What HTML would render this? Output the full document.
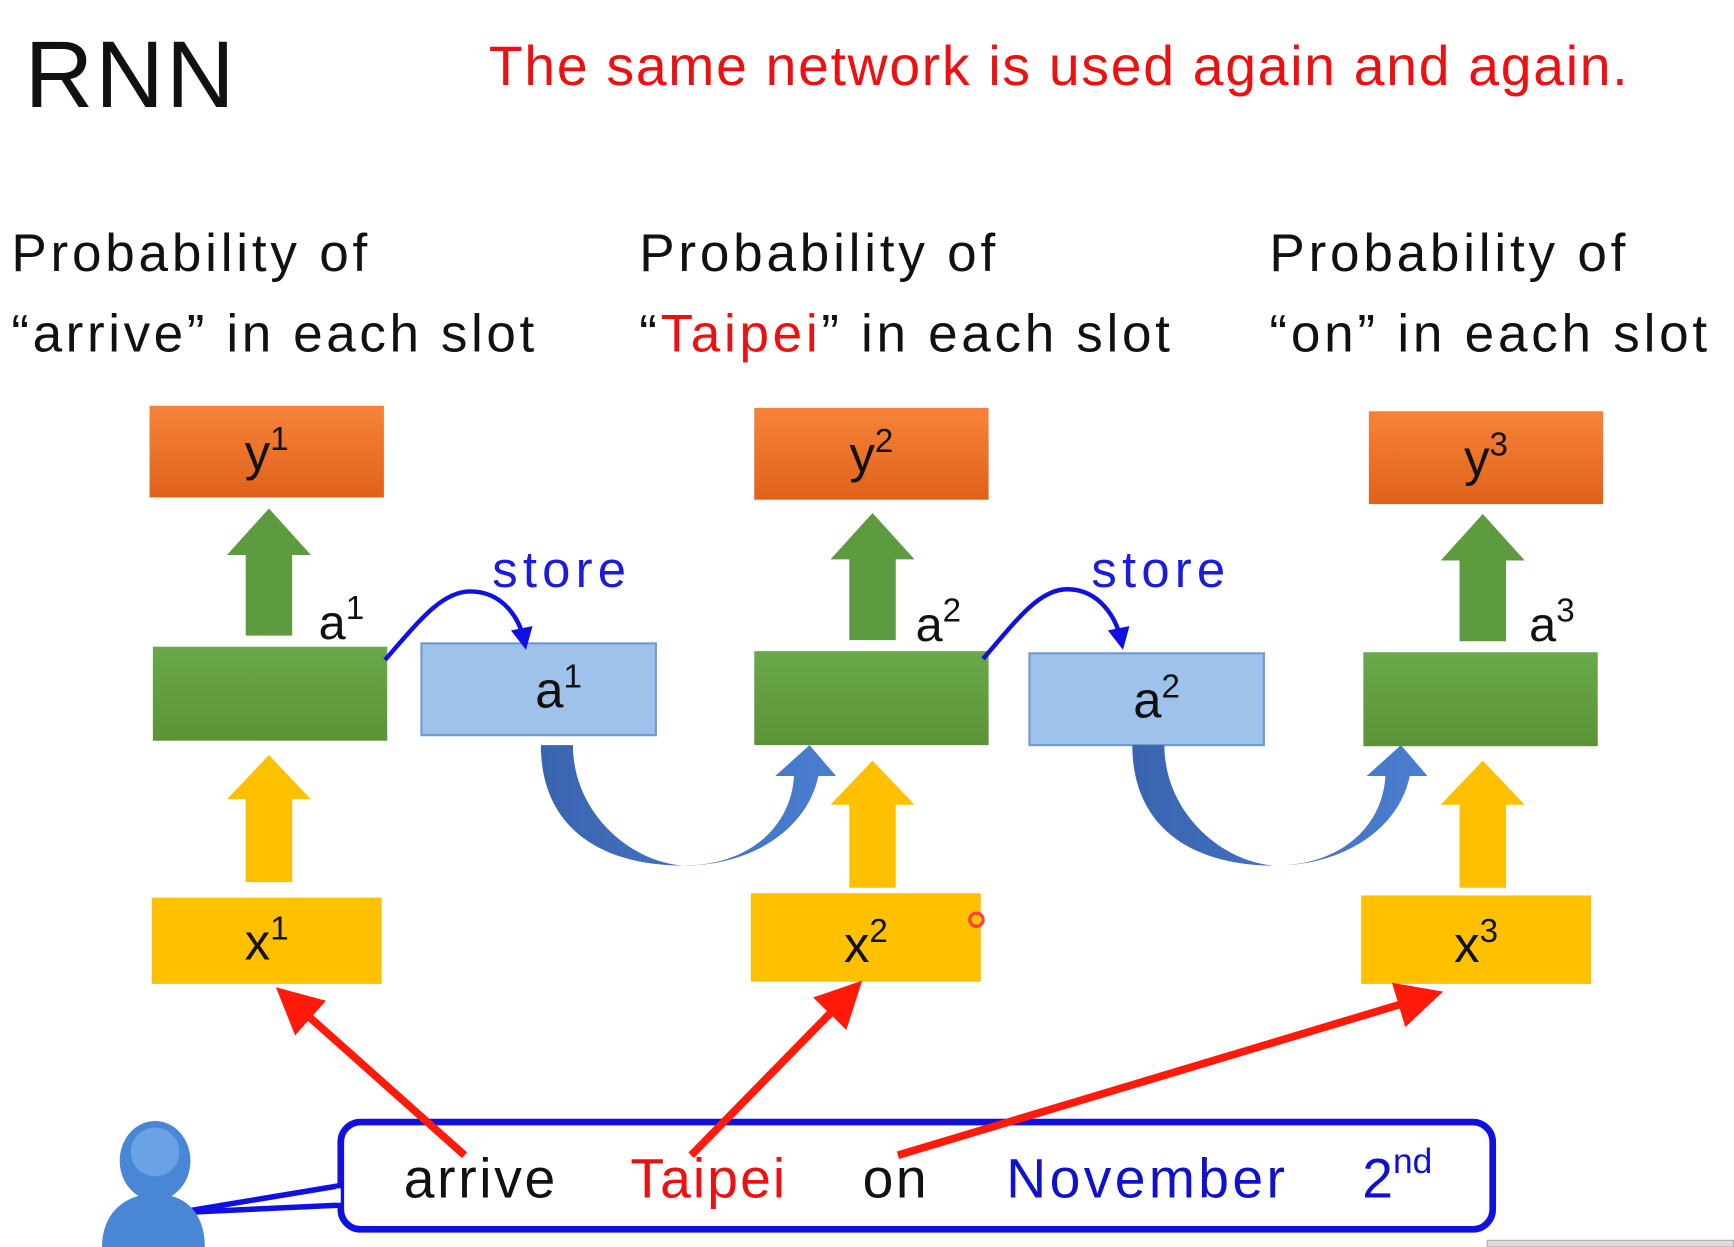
<!DOCTYPE html>
<html><head><meta charset="utf-8"><style>html,body{margin:0;padding:0;background:#fff}svg{display:block}</style></head>
<body>
<svg width="1734" height="1247" viewBox="0 0 1568 1128" xmlns="http://www.w3.org/2000/svg" font-family="'Liberation Sans', 'DejaVu Sans', sans-serif">
<defs>
<linearGradient id="og" x1="0" y1="0" x2="0" y2="1"><stop offset="0" stop-color="#f7833a"/><stop offset="1" stop-color="#e0621a"/></linearGradient>
<linearGradient id="gg" x1="0" y1="0" x2="0" y2="1"><stop offset="0" stop-color="#6aa84a"/><stop offset="1" stop-color="#5a9436"/></linearGradient>
<linearGradient id="bg" x1="0" y1="0" x2="1" y2="0"><stop offset="0" stop-color="#3a64b0"/><stop offset="1" stop-color="#4a7ed0"/></linearGradient>
<marker id="ra" markerWidth="6" markerHeight="6" refX="3" refY="3" orient="auto" markerUnits="strokeWidth"><path d="M0,0 L6,3 L0,6 z" fill="#ff1a0a"/></marker>
<marker id="ba" markerWidth="5" markerHeight="5" refX="3" refY="2.5" orient="auto" markerUnits="strokeWidth"><path d="M0,0 L5,2.5 L0,5 z" fill="#1010e0"/></marker>
<g id="gar"><path d="M-21,115 L-21,42 L-38,42 L0,0 L38,42 L21,42 L21,115 Z" fill="#5e9a40"/></g>
<g id="yar"><path d="M-21,115 L-21,40 L-38,40 L0,0 L38,40 L21,40 L21,115 Z" fill="#ffc000"/></g>
</defs>
<text x="22" y="97" font-size="86" fill="#111" textLength="190">RNN</text>
<text x="442" y="77" font-size="50" fill="#ee1010" textLength="1030">The same network is used again and again.</text>
<g font-size="48" fill="#111">
<text x="10" y="245" textLength="322">Probability of</text><text x="10" y="318" textLength="473">“arrive” in each slot</text>
<text x="578" y="245" textLength="322">Probability of</text><text x="578" y="318" textLength="480">“<tspan fill="#ee1010">Taipei</tspan>” in each slot</text>
<text x="1148" y="245" textLength="322">Probability of</text><text x="1148" y="318" textLength="396">“on” in each slot</text>
</g>
<rect x="135" y="367" width="212" height="83" fill="url(#og)"/>
<rect x="682" y="369" width="212" height="83" fill="url(#og)"/>
<rect x="1238" y="372" width="212" height="84" fill="url(#og)"/>
<g font-size="46" fill="#111" text-anchor="middle">
<text x="241" y="425">y<tspan font-size="30" dy="-18">1</tspan></text>
<text x="788" y="427">y<tspan font-size="30" dy="-18">2</tspan></text>
<text x="1344" y="430">y<tspan font-size="30" dy="-18">3</tspan></text>
</g>
<use href="#gar" x="243" y="460"/>
<use href="#gar" x="789" y="464"/>
<use href="#gar" x="1341" y="465"/>
<rect x="138" y="585" width="212" height="85" fill="url(#gg)"/>
<rect x="682" y="589" width="212" height="85" fill="url(#gg)"/>
<rect x="1233" y="590" width="212" height="85" fill="url(#gg)"/>
<g font-size="44" fill="#111">
<text x="288" y="578">a<tspan font-size="30" dy="-18">1</tspan></text>
<text x="828" y="580">a<tspan font-size="30" dy="-18">2</tspan></text>
<text x="1383" y="580">a<tspan font-size="30" dy="-18">3</tspan></text>
</g>
<rect x="381" y="582" width="212" height="83" fill="#9fc2eb" stroke="#6f9bd0" stroke-width="2"/>
<rect x="931" y="591" width="212" height="83" fill="#9fc2eb" stroke="#6f9bd0" stroke-width="2"/>
<g font-size="46" fill="#111" text-anchor="middle">
<text x="505" y="640">a<tspan font-size="30" dy="-18">1</tspan></text>
<text x="1046" y="649">a<tspan font-size="30" dy="-18">2</tspan></text>
</g>
<g font-size="46" fill="#1a1ae0">
<text x="445" y="531" textLength="121">store</text><text x="987" y="531" textLength="121">store</text>
</g>
<path d="M348,597 C380,560 400,535 425,535 C455,535 470,560 474,580" fill="none" stroke="#1010e0" stroke-width="4" marker-end="url(#ba)"/>
<path d="M889,596 C920,560 940,533 965,533 C995,533 1010,560 1014,580" fill="none" stroke="#1010e0" stroke-width="4" marker-end="url(#ba)"/>
<path d="M489,674 C489,750 545,783 618,783 C675,783 715,750 718,702 L701,702 L732,674 L756,702 L740,702 C730,750 680,783 618,783 C570,780 518,735 518,674 Z" fill="url(#bg)"/>
<path d="M1024,674 C1024,750 1080,783 1153,783 C1210,783 1250,750 1253,702 L1236,702 L1267,674 L1291,702 L1275,702 C1265,750 1215,783 1153,783 C1105,780 1053,735 1053,674 Z" fill="url(#bg)"/>
<use href="#yar" x="243" y="683"/>
<use href="#yar" x="789" y="688"/>
<use href="#yar" x="1341" y="688"/>
<rect x="137" y="812" width="208" height="78" fill="#ffc000"/>
<rect x="679" y="808" width="208" height="80" fill="#ffc000"/>
<rect x="1231" y="810" width="208" height="80" fill="#ffc000"/>
<g font-size="46" fill="#111" text-anchor="middle">
<text x="241" y="868">x<tspan font-size="30" dy="-18">1</tspan></text>
<text x="783" y="870">x<tspan font-size="30" dy="-18">2</tspan></text>
<text x="1335" y="870">x<tspan font-size="30" dy="-18">3</tspan></text>
</g>
<circle cx="883" cy="832" r="6" fill="none" stroke="#ff4040" stroke-width="3"/>
<path d="M160,1097 L310,1072 L310,1090 Z" fill="#fff" stroke="#1010e0" stroke-width="5"/>
<rect x="308" y="1015" width="1042" height="97" rx="18" fill="#fff" stroke="#1010e0" stroke-width="6"/>
<path d="M306,1075 L306,1088" stroke="#fff" stroke-width="4"/>
<ellipse cx="140" cy="1050" rx="32" ry="36" fill="#4a86d6"/>
<ellipse cx="140" cy="1042" rx="22" ry="22" fill="#6aa2e6"/>
<path d="M92,1128 C92,1100 110,1080 140,1080 C170,1080 185,1100 185,1128 Z" fill="#4a86d6"/>
<g stroke="#ff1a0a" stroke-width="7" marker-end="url(#ra)">
<line x1="420" y1="1045" x2="265" y2="907"/>
<line x1="625" y1="1045" x2="765" y2="902"/>
<line x1="812" y1="1045" x2="1285" y2="903"/>
</g>
<g font-size="50">
<text x="365" y="1083" fill="#111" textLength="137">arrive</text>
<text x="570" y="1083" fill="#ee1010" textLength="140">Taipei</text>
<text x="780" y="1083" fill="#111" textLength="58">on</text>
<text x="910" y="1083" fill="#1010d0" textLength="252">November</text>
<text x="1232" y="1083" fill="#1010d0">2<tspan font-size="32" dy="-22">nd</tspan></text>
</g>
<rect x="1345" y="1122" width="223" height="6" fill="#ddd" stroke="#aaa"/>
</svg>
</body></html>
